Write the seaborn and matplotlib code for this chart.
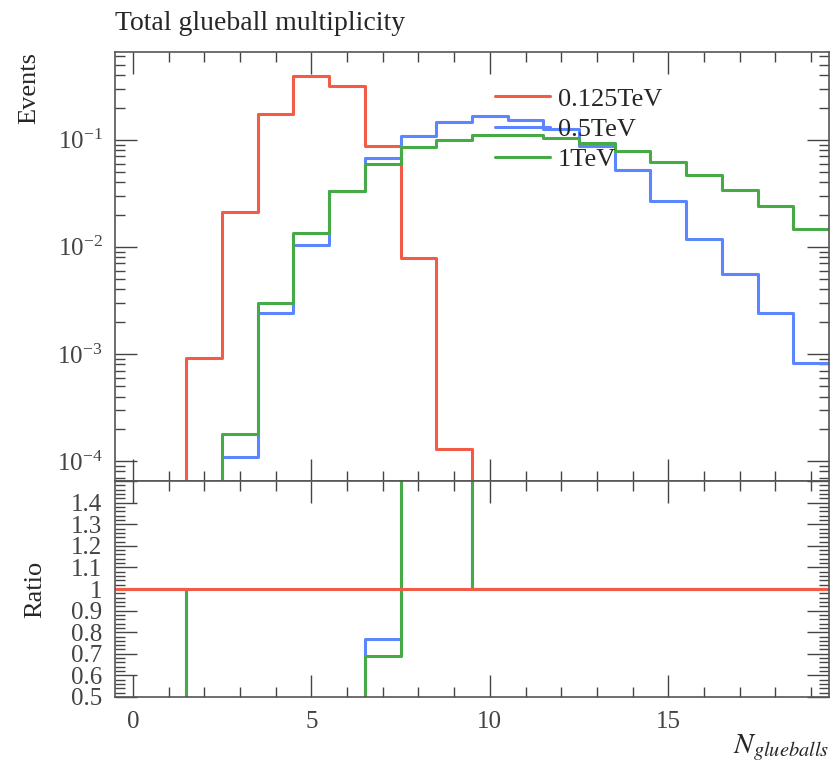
import numpy as np
import pandas as pd
import matplotlib
matplotlib.use("Agg")
import matplotlib.pyplot as plt
from matplotlib.ticker import MultipleLocator, FuncFormatter, LogLocator, NullFormatter
import seaborn as sns

# bin centres 0..19 (bin width 1)
n_bins = list(range(20))
labels = ["0.125TeV", "0.5TeV", "1TeV"]
colors = ["#f25c47", "#5c86ff", "#46ab46"]

red = [0, 0, 9.1e-4, 0.021, 0.175, 0.396, 0.315, 0.087, 0.0079, 1.3e-4,
       0, 0, 0, 0, 0, 0, 0, 0, 0, 0]
blue = [0, 0, 0, 1.1e-4, 0.0024, 0.0105, 0.033, 0.067, 0.109, 0.148,
        0.167, 0.154, 0.126, 0.087, 0.052, 0.027, 0.0118, 0.0056, 0.0024, 8.2e-4]
green = [0, 0, 0, 1.8e-4, 0.0030, 0.0136, 0.033, 0.060, 0.085, 0.099,
         0.110, 0.111, 0.105, 0.094, 0.078, 0.062, 0.047, 0.034, 0.024, 0.0147]

series = [red, blue, green]

sns.set_style("ticks")
plt.rcParams["font.family"] = ["Liberation Serif", "DejaVu Serif"]
plt.rcParams["mathtext.fontset"] = "stix"
plt.rcParams["axes.edgecolor"] = "#555555"
plt.rcParams["xtick.color"] = "#444444"
plt.rcParams["ytick.color"] = "#444444"

edges = np.arange(len(n_bins) + 1) - 0.5


def step_df(vals):
    return pd.DataFrame({"x": edges, "y": np.append(vals, vals[-1])})


def ratio(vals, ref):
    vals = np.array(vals, float)
    ref = np.array(ref, float)
    out = np.ones_like(vals)
    m = ref > 0
    out[m] = vals[m] / ref[m]
    return out


fig = plt.figure(figsize=(8.35, 7.65), dpi=100)
ax = fig.add_axes([0.1377, 0.3712, 0.8551, 0.5608])
axr = fig.add_axes([0.1377, 0.0889, 0.8551, 0.2823], sharex=ax)

ax.set_yscale("log")
for vals, lab, col in zip(series, labels, colors):
    sns.lineplot(data=step_df(vals), x="x", y="y", ax=ax, color=col, lw=2.2,
                 drawstyle="steps-post", label=lab, estimator=None)

# ratio panel, reference = 0.125 TeV
for vals, col in [(blue, colors[1]), (green, colors[2]), (red, colors[0])]:
    sns.lineplot(data=step_df(ratio(vals, red)), x="x", y="y", ax=axr, color=col,
                 lw=2.2, drawstyle="steps-post", estimator=None)

ax.set_xlim(-0.5, 19.5)
ax.set_ylim(6.5e-5, 0.66)
axr.set_ylim(0.5, 1.5)

for a in (ax, axr):
    a.tick_params(which="both", direction="in", top=True, right=True, labelsize=18)
    a.tick_params(which="major", length=16, width=1)
    a.tick_params(which="minor", length=7, width=1)
    a.tick_params(axis="y", pad=9)
    a.tick_params(axis="x", pad=10)
    a.xaxis.set_major_locator(MultipleLocator(5))
    a.xaxis.set_minor_locator(MultipleLocator(1))
    for s in a.spines.values():
        s.set_linewidth(1.2)

ax.yaxis.set_major_locator(LogLocator(base=10, numticks=10))
ax.yaxis.set_minor_locator(LogLocator(base=10, subs=np.arange(2, 10), numticks=20))
ax.yaxis.set_minor_formatter(NullFormatter())
ax.tick_params(labelbottom=False)
ax.set_xlabel("")
ax.set_ylabel("Events", fontsize=19, loc="top", labelpad=12)

axr.yaxis.set_major_locator(MultipleLocator(0.1))
axr.yaxis.set_minor_locator(MultipleLocator(0.02))
axr.yaxis.set_major_formatter(FuncFormatter(lambda v, p: "" if v > 1.45 else f"{v:g}"))
axr.set_ylabel("Ratio", fontsize=19, labelpad=18)
axr.set_xlabel(r"$N_{glueballs}$", fontsize=21, ha="right")
axr.xaxis.set_label_coords(1.0, -0.165)

ax.legend(loc="upper left", bbox_to_anchor=(0.532, 0.918), frameon=False, fontsize=19,
          handlelength=2.1, handletextpad=0.3, labelspacing=0.25,
          borderpad=0, borderaxespad=0)

fig.text(0.1377, 0.953, "Total glueball multiplicity", fontsize=20, ha="left", va="bottom")

fig.savefig("out.png", dpi=100)
